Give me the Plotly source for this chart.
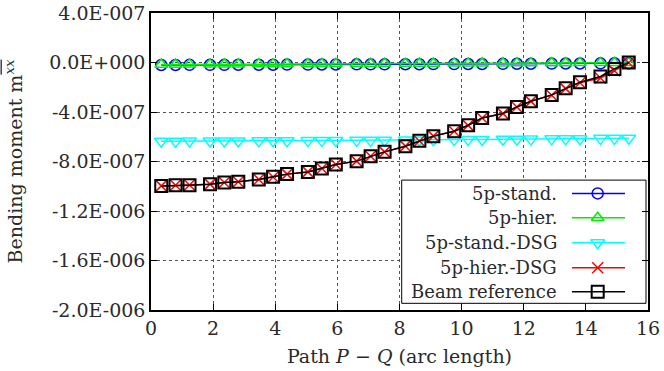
import plotly.graph_objects as go

# Sampling points along the path P-Q (arc length)
arc_length = [0.33, 0.79, 1.24, 1.90, 2.36, 2.81, 3.47, 3.93, 4.38,
              5.05, 5.50, 5.95, 6.62, 7.07, 7.52, 8.19, 8.64, 9.09,
              9.76, 10.21, 10.66, 11.33, 11.78, 12.23, 12.90, 13.35,
              13.81, 14.47, 14.92, 15.38]

# Bending moment m^xx for each formulation
m_stand = [-2.0e-8, -2.0e-8, -1.9e-8, -1.9e-8, -1.9e-8, -1.8e-8, -1.8e-8,
           -1.8e-8, -1.7e-8, -1.7e-8, -1.6e-8, -1.6e-8, -1.5e-8, -1.5e-8,
           -1.5e-8, -1.4e-8, -1.4e-8, -1.3e-8, -1.3e-8, -1.2e-8, -1.2e-8,
           -1.1e-8, -1.0e-8, -1.0e-8, -9.0e-9, -8.0e-9, -8.0e-9, -7.0e-9,
           -6.0e-9, -6.0e-9]
m_hier = [-1.6e-8, -1.6e-8, -1.5e-8, -1.5e-8, -1.4e-8, -1.4e-8, -1.3e-8,
          -1.3e-8, -1.2e-8, -1.2e-8, -1.1e-8, -1.1e-8, -1.0e-8, -1.0e-8,
          -9.0e-9, -9.0e-9, -8.0e-9, -8.0e-9, -7.0e-9, -7.0e-9, -6.0e-9,
          -6.0e-9, -5.0e-9, -5.0e-9, -4.0e-9, -4.0e-9, -3.0e-9, -3.0e-9,
          -2.0e-9, -2.0e-9]
m_stand_dsg = [-6.36e-7, -6.36e-7, -6.35e-7, -6.35e-7, -6.35e-7, -6.34e-7,
               -6.33e-7, -6.33e-7, -6.32e-7, -6.31e-7, -6.31e-7, -6.30e-7,
               -6.29e-7, -6.29e-7, -6.28e-7, -6.26e-7, -6.26e-7, -6.25e-7,
               -6.23e-7, -6.23e-7, -6.22e-7, -6.20e-7, -6.20e-7, -6.19e-7,
               -6.17e-7, -6.17e-7, -6.16e-7, -6.13e-7, -6.13e-7, -6.12e-7]
m_hier_dsg = [-9.97e-7, -9.92e-7, -9.90e-7, -9.83e-7, -9.70e-7, -9.63e-7,
              -9.45e-7, -9.25e-7, -9.02e-7, -8.84e-7, -8.57e-7, -8.24e-7,
              -7.97e-7, -7.58e-7, -7.22e-7, -6.77e-7, -6.34e-7, -5.95e-7,
              -5.55e-7, -5.08e-7, -4.49e-7, -4.13e-7, -3.60e-7, -3.14e-7,
              -2.64e-7, -2.11e-7, -1.64e-7, -1.25e-7, -6.6e-8, -2.0e-9]
m_beam = [-9.97e-7, -9.91e-7, -9.91e-7, -9.83e-7, -9.69e-7, -9.64e-7,
          -9.45e-7, -9.24e-7, -9.02e-7, -8.84e-7, -8.56e-7, -8.24e-7,
          -7.97e-7, -7.57e-7, -7.22e-7, -6.76e-7, -6.33e-7, -5.95e-7,
          -5.55e-7, -5.07e-7, -4.48e-7, -4.12e-7, -3.59e-7, -3.13e-7,
          -2.62e-7, -2.08e-7, -1.59e-7, -1.13e-7, -5.2e-8, 0.0]

x_ticks = [0, 2, 4, 6, 8, 10, 12, 14, 16]
y_ticks = [4.0e-7, 0.0, -4.0e-7, -8.0e-7, -1.2e-6, -1.6e-6, -2.0e-6]
y_tick_labels = ["4.0E-007", "0.0E+000", "-4.0E-007", "-8.0E-007",
                 "-1.2E-006", "-1.6E-006", "-2.0E-006"]

series_names = ["5p-stand.", "5p-hier.", "5p-stand.-DSG", "5p-hier.-DSG",
                "Beam reference"]
series_values = [m_stand, m_hier, m_stand_dsg, m_hier_dsg, m_beam]
series_colors = ["#0000ff", "#00ee00", "#00ffff", "#ff0000", "#000000"]
series_symbols = ["circle-open", "triangle-up-open", "triangle-down-open",
                  "x-thin-open", "square-open"]
series_sizes = [11, 11, 12, 11, 12]
series_mlw = [1.5, 1.5, 1.5, 1.5, 2.0]

FONT = "DejaVu Serif"
TEXT_COLOR = "#2a2a2a"
FS_KEY = 18
FS_TICK = 19
FS_TITLE = 19

fig = go.Figure()

for name, vals, col, sym, sz, mlw in zip(series_names, series_values,
                                         series_colors, series_symbols,
                                         series_sizes, series_mlw):
    fig.add_trace(go.Scatter(
        x=arc_length, y=vals, name=name, mode="lines+markers",
        line=dict(color=col, width=1.5),
        marker=dict(symbol=sym, size=sz, color=col,
                    line=dict(color=col, width=mlw)),
        showlegend=False, cliponaxis=False,
    ))

# Key box drawn on an overlay axis pair spanning the plot area (0..1)
box_x0, box_x1, box_y0, box_y1 = 0.5044, 0.996, 0.0225, 0.4373
fig.add_trace(go.Scatter(
    x=[box_x0, box_x1, box_x1, box_x0, box_x0],
    y=[box_y0, box_y0, box_y1, box_y1, box_y0],
    mode="lines", fill="toself", fillcolor="white",
    line=dict(color="black", width=1), xaxis="x2", yaxis="y2",
    showlegend=False, hoverinfo="skip",
))

row_y = [0.3925, 0.3105, 0.2264, 0.1423, 0.0616]
sample_x0, sample_x1, sample_xm = 0.847, 0.9537, 0.8988
text_right = 0.8209
for name, col, sym, sz, mlw, ry in zip(series_names, series_colors,
                                       series_symbols, series_sizes,
                                       series_mlw, row_y):
    fig.add_trace(go.Scatter(
        x=[sample_x0, sample_x1], y=[ry, ry], mode="lines",
        line=dict(color=col, width=1.5), xaxis="x2", yaxis="y2",
        showlegend=False, hoverinfo="skip",
    ))
    fig.add_trace(go.Scatter(
        x=[sample_xm], y=[ry], mode="markers",
        marker=dict(symbol=sym, size=sz, color=col,
                    line=dict(color=col, width=mlw)),
        xaxis="x2", yaxis="y2", showlegend=False, hoverinfo="skip",
    ))
    fig.add_annotation(
        x=text_right, y=ry, xref="paper", yref="paper", text=name,
        showarrow=False, xanchor="right", yanchor="middle",
        font=dict(family=FONT, size=FS_KEY, color=TEXT_COLOR),
    )

axis_common = dict(
    showline=True, linecolor="black", linewidth=1.5, mirror="ticks",
    ticks="inside", ticklen=6, tickwidth=1, tickcolor="black",
    showgrid=True, gridcolor="#555555", gridwidth=1, griddash="dot",
    zeroline=False, automargin=False,
    tickfont=dict(family=FONT, size=FS_TICK, color=TEXT_COLOR),
)

fig.update_layout(
    width=664, height=371,
    margin=dict(l=151, r=16, t=13, b=61),
    paper_bgcolor="white", plot_bgcolor="white",
    font=dict(family=FONT, color=TEXT_COLOR),
    xaxis=dict(range=[0, 16], tickvals=x_ticks,
               title=dict(text="Path <i>P</i> \u2212 <i>Q</i> (arc length)",
                          font=dict(family=FONT, size=FS_TITLE,
                                    color=TEXT_COLOR),
                          standoff=12),
               **axis_common),
    yaxis=dict(range=[-2.0e-6, 4.0e-7], tickvals=y_ticks,
               ticktext=y_tick_labels,
               title=dict(text="Bending moment m<sup><span style='text-decoration:overline'><i>xx</i></span></sup>",
                          font=dict(family=FONT, size=FS_TITLE,
                                    color=TEXT_COLOR),
                          standoff=22),
               **axis_common),
    xaxis2=dict(range=[0, 1], overlaying="x", anchor="y2", visible=False,
                fixedrange=True),
    yaxis2=dict(range=[0, 1], overlaying="y", anchor="x2", visible=False,
                fixedrange=True),
    showlegend=False,
)

fig.write_html("out.html")
